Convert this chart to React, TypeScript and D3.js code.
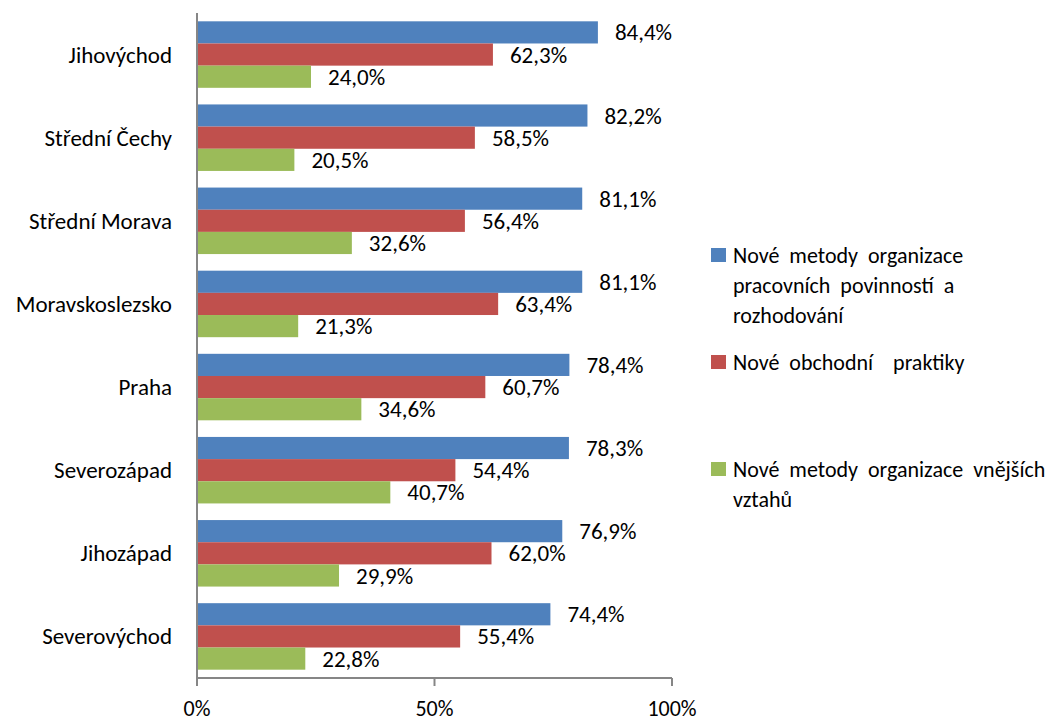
import React from "react";
import * as d3 from "d3";

const categories = ["Jihovýchod", "Střední Čechy", "Střední Morava", "Moravskoslezsko", "Praha", "Severozápad", "Jihozápad", "Severovýchod"];
const seriesNames = ["Nové metody organizace pracovních povinností a rozhodování", "Nové obchodní  praktiky", "Nové metody organizace vnějších vztahů"];
const legendLines = [["Nové metody organizace", "pracovních povinností a", "rozhodování"], ["Nové obchodní  praktiky"], ["Nové metody organizace vnějších", "vztahů"]];
const metodyPrace = [84.4, 82.2, 81.1, 81.1, 78.4, 78.3, 76.9, 74.4];
const obchodni = [62.3, 58.5, 56.4, 63.4, 60.7, 54.4, 62.0, 55.4];
const vnejsi = [24.0, 20.5, 32.6, 21.3, 34.6, 40.7, 29.9, 22.8];
const xTicks = [0, 50, 100];
const colors = ["#4F81BD", "#C0504D", "#9BBB59"];

export default function App() {
  const W = 1058, H = 722;
  const left = 197, right = 672, top = 13, bottom = 678;
  const x = d3.scaleLinear().domain([0, 100]).range([left, right]);
  const y0 = d3.scaleBand().domain(categories).range([top, bottom]).paddingInner(0.2).paddingOuter(0.1);
  const y1 = d3.scaleBand().domain(["0", "1", "2"]).range([0, y0.bandwidth()]);
  const series = [metodyPrace, obchodni, vnejsi];
  const font = "Carlito, Lato, sans-serif";
  const fmt = (v: number) => v.toFixed(1).replace(".", ",") + "%";
  const legendY = [255, 362, 469];
  return (
    <svg width={W} height={H} style={{ position: "absolute", left: 0, top: 0, background: "#fff" }} fontFamily={font}>
      {categories.map((c, i) => (
        <g key={c}>
          {series.map((s, j) => {
            const yy = (y0(c) as number) + (y1(String(j)) as number);
            const h = y1.bandwidth();
            return (
              <g key={j}>
                <rect x={x(0)} y={yy} width={x(s[i]) - x(0)} height={h} fill={colors[j]} />
                <text x={x(s[i]) + 17} y={yy + h / 2} dy="0.35em" fontSize={23} fill="#000">{fmt(s[i])}</text>
              </g>
            );
          })}
          <text x={left - 25} y={(y0(c) as number) + y0.bandwidth() / 2} dy="0.35em" textAnchor="end" fontSize={23} fill="#000">{c}</text>
        </g>
      ))}
      <line x1={left} x2={left} y1={top} y2={bottom} stroke="#868686" strokeWidth={2} />
      <line x1={left} x2={right} y1={bottom} y2={bottom} stroke="#868686" strokeWidth={2} />
      {xTicks.map(t => (
        <g key={t}>
          <line x1={x(t)} x2={x(t)} y1={bottom} y2={bottom + 8} stroke="#868686" strokeWidth={2} />
          <text x={x(t)} y={708} dy="0.35em" textAnchor="middle" fontSize={22} fill="#000">{t}%</text>
        </g>
      ))}
      {seriesNames.map((n, j) => (
        <g key={n}>
          <rect x={711} y={legendY[j] - 7} width={15} height={14} fill={colors[j]} />
          {legendLines[j].map((l, k) => (
            <text key={k} x={733} y={legendY[j] + k * 30} dy="0.35em" fontSize={22} wordSpacing={5} fill="#000" style={{ whiteSpace: "pre" }}>{l}</text>
          ))}
        </g>
      ))}
    </svg>
  );
}
